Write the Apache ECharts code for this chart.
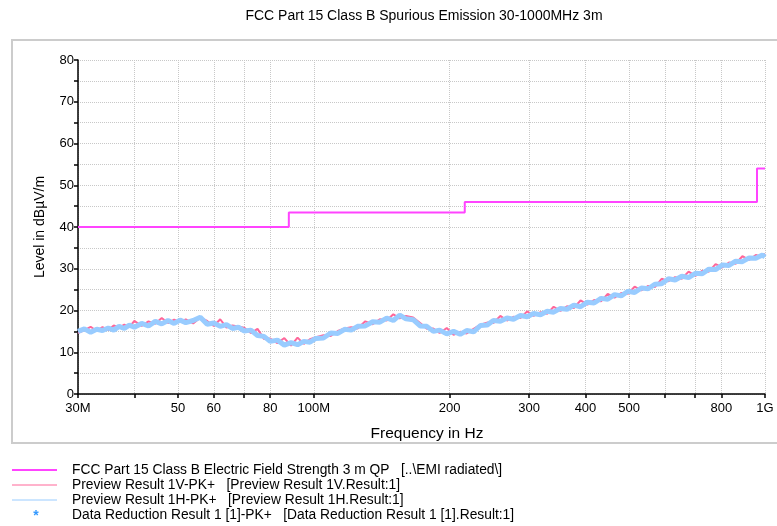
<!DOCTYPE html>
<html>
<head>
<meta charset="utf-8">
<script src="https://cdn.jsdelivr.net/npm/echarts@6/dist/echarts.min.js"></script>
<style>html,body{margin:0;padding:0;background:#fff}#c{width:777px;height:526px}</style>
</head>
<body>
<div id="c"></div>
<script>
const titleText = 'FCC Part 15 Class B Spurious Emission 30-1000MHz 3m';
const freqMHz = [30,31,32,33,34,35,36,37,38,39,40,41.5,43,44.5,46,47.5,49,50.5,52,54,56,58,60,62,64,66,68,70,72.5,75,77.5,80,83,86,89,92,95,98,101,105,109,113,117,121,125,130,135,140,145,150,155,160,166,172,178,184,190,197,204,211,218,226,234,242,250,259,268,277,287,297,307,318,329,340,352,364,377,390,404,418,433,448,464,480,497,514,532,551,570,590,611,632,654,677,701,726,751,777,804,832,861,891,922,954,987,1000];
const levelV = [14.6,15.3,16.1,15.1,16.0,15.3,16.4,15.9,16.6,16.0,17.5,16.3,17.4,16.8,18.2,17.0,17.8,17.2,17.9,16.9,18.3,17.5,16.3,17.9,15.9,16.4,16.2,15.9,14.6,15.6,13.2,13.3,12.2,13.4,11.6,13.5,12.0,13.1,13.6,14.1,13.9,15.1,15.7,16.0,15.7,17.4,16.7,17.9,17.6,19.1,18.1,18.7,18.3,17.0,15.6,15.7,14.6,15.8,14.2,14.9,14.5,15.6,16.6,17.1,17.0,18.7,17.6,18.5,18.2,19.8,18.7,19.6,19.2,20.9,19.9,21.0,20.6,22.4,21.4,22.5,22.2,24.0,23.1,24.2,24.0,25.7,24.8,25.9,25.6,27.6,27.0,28.0,27.6,29.3,28.3,29.5,29.3,31.1,30.3,31.5,31.2,33.0,32.1,33.3,32.8,33.6];
const levelH = [15.0,15.6,14.8,15.5,15.2,15.8,15.3,16.2,15.7,16.5,16.0,16.9,16.3,17.4,16.8,17.6,16.9,17.7,17.1,17.6,18.4,16.7,17.0,16.2,16.6,15.7,16.0,15.1,15.3,14.0,13.8,12.6,12.9,11.7,12.3,11.8,12.6,12.4,13.3,13.4,14.6,14.5,15.5,15.3,16.2,16.3,17.3,17.2,18.2,17.6,18.9,18.0,17.8,16.3,16.2,15.0,15.3,14.4,15.0,14.3,15.2,14.9,16.4,16.5,17.6,17.4,18.2,17.9,18.8,18.5,19.3,19.0,19.8,19.6,20.5,20.3,21.3,20.9,22.0,21.8,22.9,22.7,23.8,23.5,24.6,24.3,25.4,25.2,26.3,26.4,27.6,27.3,28.2,27.9,28.9,28.8,29.9,29.8,30.9,30.8,31.8,31.7,32.6,32.5,33.3,32.8];
const limitFreq = [30,88,88,216,216,960,960,1000];
const limitLevel = [40,40,43.5,43.5,46,46,54,54];
const xTickValues = [30,40,50,60,70,80,100,200,300,400,500,600,700,800,1000];
const xLabelValues = [30,50,60,80,100,200,300,400,500,800,1000];
const xLabelText = ['30M','50','60','80','100M','200','300','400','500','800','1G'];
const legendNames = [
  'FCC Part 15 Class B Electric Field Strength 3 m QP   [..\\EMI radiated\\]',
  'Preview Result 1V-PK+   [Preview Result 1V.Result:1]',
  'Preview Result 1H-PK+   [Preview Result 1H.Result:1]',
  'Data Reduction Result 1 [1]-PK+   [Data Reduction Result 1 [1].Result:1]'
];
const colLimit = '#ff44ff', colV = '#ff6699', colH = '#99ccff', colStar = '#3399ff';

const lg = v => Math.log10(v);
const pairs = (xs, ys) => xs.map((x, i) => [lg(x), ys[i]]);
const labelMap = {};
xLabelValues.forEach((v, i) => labelMap[v] = xLabelText[i]);

const chart = echarts.init(document.getElementById('c'), null, {renderer: 'canvas'});
const legendRowsY = [470, 485, 500, 515];
const legendGraphics = [];
const legendCols = [colLimit, colV, colH];
const legendW = [2, 1, 1];
legendRowsY.forEach((y, i) => {
  if (i < 3) {
    legendGraphics.push({type: 'line', shape: {x1: 12, y1: y, x2: 57, y2: y}, style: {stroke: legendCols[i], lineWidth: legendW[i]}});
  } else {
    legendGraphics.push({type: 'text', x: 36, y: y + 1, style: {text: '*', font: 'bold 14px "Liberation Sans"', fill: colStar, align: 'center', verticalAlign: 'middle'}});
  }
  legendGraphics.push({type: 'text', x: 72, y: y, style: {text: legendNames[i], font: '13.8px "Liberation Sans", Arial', fill: '#000', verticalAlign: 'middle'}});
});

const option = {
  animation: false,
  backgroundColor: '#fff',
  textStyle: {fontFamily: '"Liberation Sans", Arial, sans-serif'},
  graphic: [
    {type: 'rect', shape: {x: 12, y: 40, width: 780, height: 403}, style: {fill: 'none', stroke: '#cccccc', lineWidth: 2}, z: -1},
    {type: 'text', x: 424, y: 16, style: {text: titleText, font: '14px "Liberation Sans", Arial', fill: '#000', align: 'center', verticalAlign: 'middle'}}
  ].concat(legendGraphics),
  grid: {left: 78, right: 12, top: 60, bottom: 132},
  xAxis: {
    type: 'value', min: lg(30), max: 3,
    name: 'Frequency in Hz', nameLocation: 'middle', nameGap: 32,
    nameTextStyle: {fontSize: 15.5, color: '#000', padding: [0, 0, 0, 11]},
    axisLine: {show: true, lineStyle: {color: '#000', width: 1.5}},
    axisTick: {show: true, customValues: xTickValues.map(lg), length: 4, lineStyle: {color: '#000', width: 1.5}},
    axisLabel: {customValues: xLabelValues.map(lg), fontSize: 13, color: '#000', margin: 8,
      formatter: v => labelMap[Math.round(Math.pow(10, v))] || ''},
    splitLine: {show: true, lineStyle: {color: '#c8c8c8', type: 'dotted', width: 1}}
  },
  yAxis: {
    type: 'value', min: 0, max: 80, interval: 5,
    name: 'Level in dBµV/m', nameLocation: 'middle', nameGap: 31,
    nameTextStyle: {fontSize: 14, color: '#000'},
    axisLine: {show: true, lineStyle: {color: '#000', width: 1.5}},
    axisTick: {show: true, length: 4, lineStyle: {color: '#000', width: 1.5}},
    axisLabel: {fontSize: 13, color: '#000', margin: 4, formatter: v => (v % 10 === 0 ? String(v) : '')},
    splitLine: {show: true, lineStyle: {color: '#c8c8c8', type: 'dotted', width: 1}}
  },
  series: [
    {name: legendNames[1], type: 'line', data: pairs(freqMHz, levelV), showSymbol: false, symbol: 'none',
     lineStyle: {color: colV, width: 2}, z: 2},
    {name: legendNames[2], type: 'line', data: pairs(freqMHz, levelH), showSymbol: false, symbol: 'none',
     lineStyle: {color: colH, width: 5, join: 'bevel'}, z: 3},
    {name: legendNames[0], type: 'line', data: pairs(limitFreq, limitLevel), showSymbol: false, symbol: 'none',
     lineStyle: {color: colLimit, width: 2}, z: 4},
    {name: legendNames[3], type: 'scatter', data: [], symbol: 'circle', itemStyle: {color: colStar}}
  ]
};
chart.setOption(option);
</script>
</body>
</html>
